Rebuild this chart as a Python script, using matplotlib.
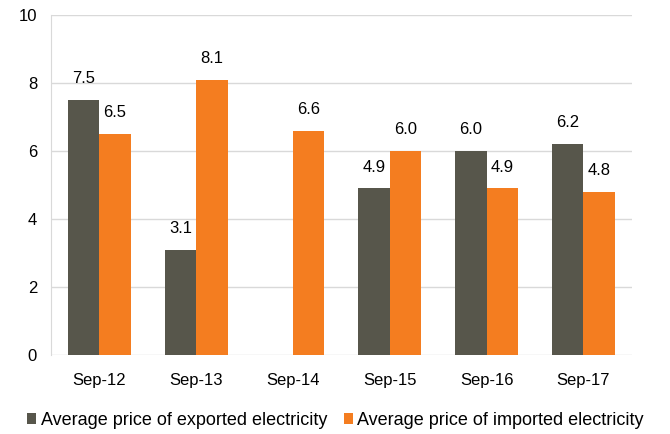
import numpy as np
import matplotlib.pyplot as plt

plt.rcParams['font.family'] = ['Liberation Sans', 'DejaVu Sans']

categories = ['Sep-12', 'Sep-13', 'Sep-14', 'Sep-15', 'Sep-16', 'Sep-17']
exported = [7.5, 3.1, np.nan, 4.9, 6.0, 6.2]
imported = [6.5, 8.1, 6.6, 6.0, 4.9, 4.8]

fig, ax = plt.subplots(figsize=(6.7, 4.34), dpi=100)
fig.subplots_adjust(left=0.076, right=0.943, top=0.965, bottom=0.182)

x = np.arange(len(categories))
w = 0.325
b1 = ax.bar(x - w / 2, exported, w, color='#57564B', label='Average price of exported electricity', zorder=3)
b2 = ax.bar(x + w / 2, imported, w, color='#F47D20', label='Average price of imported electricity', zorder=3)

for bars, vals in [(b1, exported), (b2, imported)]:
    for bar, v in zip(bars, vals):
        if np.isnan(v):
            continue
        ax.annotate(f'{v:.1f}', (bar.get_x() + bar.get_width() / 2, v),
                    xytext=(0, 10), textcoords='offset points',
                    ha='center', va='bottom', fontsize=12)

ax.set_xlim(-0.5, len(categories) - 0.5)
ax.set_ylim(0, 10)
ax.set_yticks([0, 2, 4, 6, 8, 10])
ax.set_xticks(x)
ax.set_xticklabels(categories)
ax.tick_params(axis='both', length=0, labelsize=12)
ax.tick_params(axis='x', pad=13)
ax.tick_params(axis='y', pad=10)
ax.grid(axis='y', color='#D9D9D9', linewidth=1, zorder=0)
for s in ['top', 'right', 'bottom']:
    ax.spines[s].set_visible(False)
ax.spines['left'].set_color('#D9D9D9')

ax.legend(loc='upper center', bbox_to_anchor=(0.49, -0.12), ncol=2, frameon=False,
          fontsize=13, handlelength=0.5, handleheight=0.5, handletextpad=0.25,
          columnspacing=0.9)

fig.savefig('out.png')
